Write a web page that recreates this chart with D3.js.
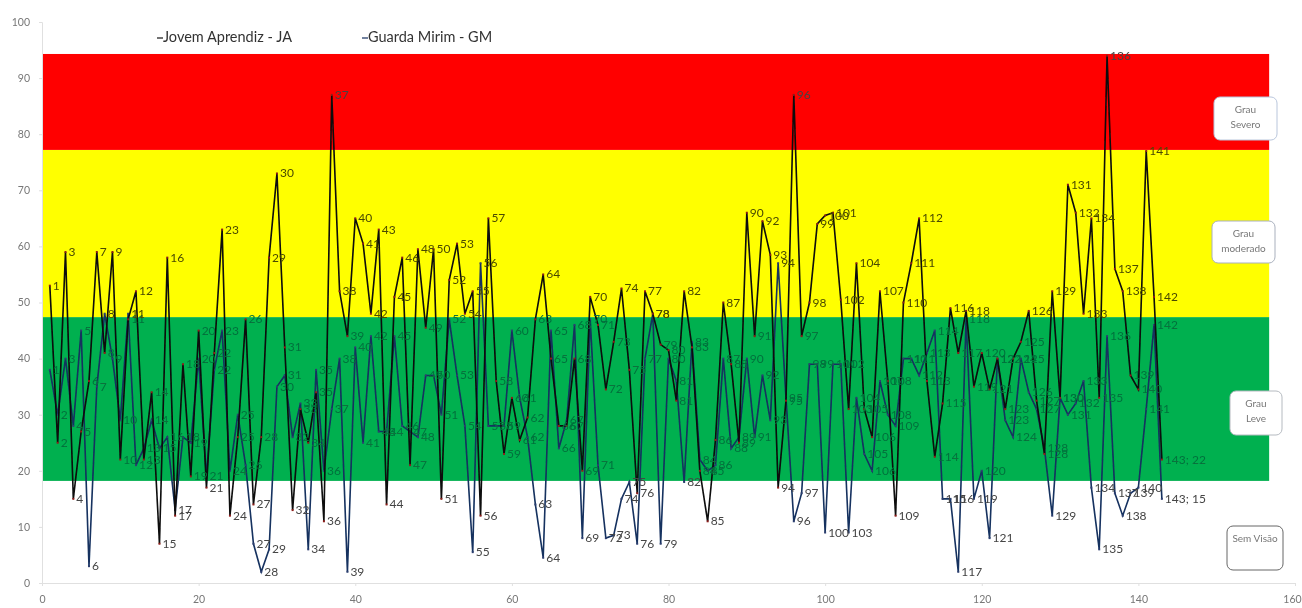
<!DOCTYPE html>
<html><head><meta charset="utf-8">
<script src="https://cdn.jsdelivr.net/npm/d3@7/dist/d3.min.js"></script>
<style>html,body{margin:0;background:#fff}svg{display:block}text{font-family:Lato,"Open Sans",sans-serif}</style>
</head><body><svg id="c" width="1302" height="608"></svg>
<script>
const xTicks=[0,20,40,60,80,100,120,140,160];
const yTicks=[0,10,20,30,40,50,60,70,80,90,100];
const bandEdges=[18.2,47.4,77.2,94.3];
const bandColors=["#00b050","#ffff00","#ff0000"];
const seriesNames=["Jovem Aprendiz - JA","Guarda Mirim - GM"];
const ja=[53,25,59,15,27,36,59,41,59,22,47,52,22,34,7,58,12,39,19,45,17,41,63,12,26,47,14,26,58,73,42,13,31,25,34,11,87,52,44,65,60.5,48,63,14,51,58,21,59.5,45.5,59.5,15,54,60.5,48,52,12,65,36,23,33,25.5,29.5,47,55,40,28,28,40,20,51,46,34.5,43,52.5,38,16,52,48,42.5,41.5,32.5,52,42,20,11,25.5,50,39,25,66,44,64.5,58.5,17,32.5,87,44,50,64,65.5,66,50.5,31,57,31,26,52,36,12,50,57,65,36,22.5,32,49,41,48.5,35,41,34.5,40,31,40,43,48.5,32.5,23,52,33,71,66,48,65,33,94,56,52,37,34.5,77,51,22];
const gm=[38,30,40,28,45,3,35,48,40,29,48,21,24,29,24,26,13,26,25,40,19,38,45,20,30,21,7,2,6,35,37,26,32,6,38,20,31,40,2,42,25,44,27,27,44,28,27,26,37,37,30,47,37,28,5.5,57,28,28,28,45,33,26,14,4.5,45,24,29,46,8,47,21,8,8.5,15,18,7,40,48,7,40,36,18,43,22,20,21,40,24,26,40,26,37,29,57,33,11,16,39,39,9,39,39,9,33,23,20,36,30,28,40,40,37,41,45,15,15,2,47,15,20,8,40,29,26,40,34,31,24,12,33,30,32,36,17,6,44,16,12,16,17,31,46,15];
const categories=d3.range(1,ja.length+1);

const x=d3.scaleLinear().domain([0,160]).range([42,1295]);
const y=d3.scaleLinear().domain([0,100]).range([583,22]);
const svg=d3.select("#c");
const defs=svg.append("defs");
defs.append("filter").attr("id","soft")
  .attr("filterUnits","userSpaceOnUse").attr("x",0).attr("y",0).attr("width",1302).attr("height",608)
  .append("feGaussianBlur").attr("stdDeviation",0.7);
const g=svg.append("g").attr("filter","url(#soft)");

const bandRight=x(156.7);
g.selectAll("rect.band").data(bandColors).join("rect").attr("class","band")
  .attr("x",x(0)).attr("width",bandRight-x(0))
  .attr("y",(d,i)=>y(bandEdges[i+1])).attr("height",(d,i)=>y(bandEdges[i])-y(bandEdges[i+1]))
  .attr("fill",d=>d);

const xA=g.append("g").attr("transform",`translate(0,${y(0)})`).call(d3.axisBottom(x).tickValues(xTicks).tickSize(3).tickPadding(10));
const yA=g.append("g").attr("transform",`translate(${x(0)},0)`).call(d3.axisLeft(y).tickValues(yTicks).tickSize(3).tickPadding(9));
[xA,yA].forEach(a=>{a.selectAll("path,line").attr("stroke","#e0e0e0");a.selectAll("text").attr("fill","#777").attr("font-size",10.5).attr("font-family","Lato")});
xA.selectAll("text").filter(d=>d===160).attr("dx",-3);

const line=d3.line().x((d,i)=>x(categories[i])).y(d=>y(d));
const seriesList=[{v:gm,c:"#14305f",m:"#2d3f70"},{v:ja,c:"#0a0a0a",m:"#8e1f1a"}];
seriesList.forEach(s=>{
  g.append("path").attr("d",line(s.v)).attr("fill","none").attr("stroke",s.c).attr("stroke-width",1.6);
  g.append("g").selectAll("rect").data(s.v).join("rect")
    .attr("x",(d,i)=>x(categories[i])-1).attr("y",d=>y(d)-1).attr("width",2).attr("height",2).attr("fill",s.m);
});
const labelColor=v=>v>=bandEdges[0]&&v<bandEdges[1]?"#07713c":v>=bandEdges[1]&&v<bandEdges[2]?"#4a4a00":"#444";
[ja,gm].forEach(v=>{
  g.append("g").selectAll("text").data(v).join("text")
    .attr("x",(d,i)=>x(categories[i])+3).attr("y",d=>y(d)+4)
    .attr("font-size",12).attr("fill",d=>labelColor(d))
    .text((d,i)=>categories[i]===143?`143; ${d}`:categories[i]);
});

const legendPos=[{x:157,y:38},{x:362,y:38}];
seriesNames.forEach((n,i)=>{
  const p=legendPos[i];
  g.append("line").attr("x1",p.x).attr("x2",p.x+6).attr("y1",p.y).attr("y2",p.y).attr("stroke",i?"#14305f":"#111").attr("stroke-width",1.2);
  g.append("text").attr("x",p.x+6).attr("y",p.y+4).attr("font-size",14.5).attr("fill","#333").text(n);
});

const boxes=[
 {t:["Grau","Severo"],x:1214,y:97,w:63,h:43,b:"#b9c6dc"},
 {t:["Grau","moderado"],x:1212,y:221,w:63,h:42,b:"#a9b0bd"},
 {t:["Grau","Leve"],x:1230,y:391,w:52,h:44,b:"#b5bac0"},
 {t:["Sem Visão"],x:1227,y:526,w:56,h:44,b:"#666"}];
boxes.forEach(b=>{
  g.append("rect").attr("x",b.x).attr("y",b.y).attr("width",b.w).attr("height",b.h).attr("rx",6).attr("fill","#fff").attr("stroke",b.b).attr("stroke-width",1);
  b.t.forEach((s,i)=>g.append("text").attr("x",b.x+b.w/2).attr("y",b.y+16+i*15).attr("text-anchor","middle").attr("font-size",10).attr("fill","#777").text(s));
});
</script></body></html>
